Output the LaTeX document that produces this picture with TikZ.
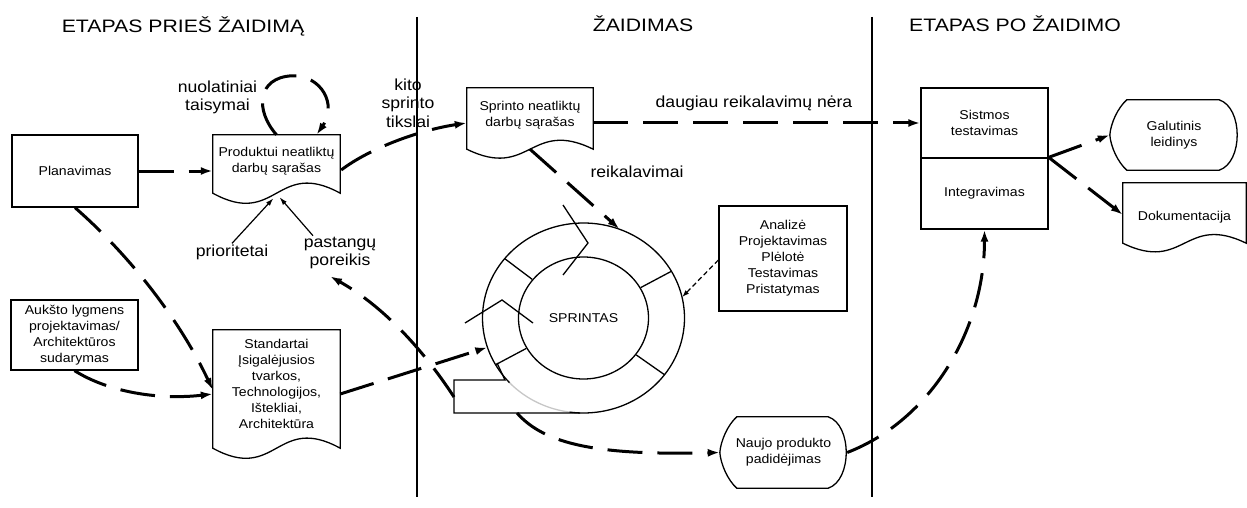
\documentclass[tikz,border=0pt]{standalone}
\usepackage{fontspec}
\setmainfont{Liberation Sans}[FakeStretch=1.1]
\newfontfamily\headfont{Liberation Sans}[FakeStretch=1.18]
\usetikzlibrary{arrows.meta,calc,shapes.geometric}

\tikzset{
  boxline/.style={line width=1.3pt, line join=miter},
  txt/.style={font=\fontsize{12.8}{16}\selectfont, align=center},
  rbox/.style={draw, boxline, rectangle, inner sep=0pt, txt},
  dnode/.style={rectangle, inner sep=0pt, txt},
  lbl/.style={font=\fontsize{16}{18.5}\selectfont, align=center, inner sep=1pt},
  head/.style={font=\headfont\fontsize{18}{21}\selectfont, inner sep=0pt},
  conn/.style={line width=3pt, dash pattern=on 35pt off 15pt, -{Latex[length=12pt,width=8pt]}},
  thinarr/.style={line width=1.2pt, -{Latex[length=8pt,width=5pt]}},
  anarr/.style={line width=1.2pt, dash pattern=on 5pt off 3pt, -{Latex[length=7pt,width=5pt]}},
  divider/.style={line width=1.5pt},
}

% document shape: name, extra drop of sides, control offsets
\newcommand\docoutline[4]{%
  \draw[boxline] ($(#1.south west)+(0,#2)$) -- (#1.north west) -- (#1.north east)
    -- ($(#1.south east)+(0,#2)$)
    .. controls ($(#1.south)+(0,#3)$) and ($(#1.south)+(0,#4)$) .. cycle;}
% display shape
\newcommand\dispshape[1]{%
  \draw[boxline] ($(#1.north west)+(17,0)$) -- ($(#1.north east)+(-19,0)$)
    .. controls ($(#1.north east)+(5,8)$) and ($(#1.south east)+(5,-8)$) .. ($(#1.south east)+(-19,0)$)
    -- ($(#1.south west)+(17,0)$)
    .. controls ($(#1.south west)+(8,-8)$) and ($(#1.west)+(1,12)$) .. (#1.west)
    .. controls ($(#1.west)+(1,-12)$) and ($(#1.north west)+(8,8)$) .. cycle;}

\begin{document}
\begin{tikzpicture}[x=1pt,y=-1pt]
\useasboundingbox (0,0) rectangle (1247,508);

% headings
\node[head, anchor=base] (h1) at (183,32.5) {ETAPAS PRIEŠ ŽAIDIMĄ};
\node[head, anchor=base] (h2) at (643,31.5) {ŽAIDIMAS};
\node[head, anchor=base] (h3) at (1015,31.5) {ETAPAS PO ŽAIDIMO};

% dividers
\draw[divider] (417,17) -- (417,497);
\draw[divider] (872,17) -- (872,497);

% boxes
\node[rbox, minimum width=126, minimum height=72] (plan) at (75,171) {Planavimas};
\node[dnode, minimum width=127, minimum height=53] (prod) at (276.5,161.5) {Produktui neatliktų\\darbų sąrašas};
\docoutline{prod}{5}{-30}{40}
\node[dnode, minimum width=127, minimum height=108] (std) at (276.5,384) {Standartai\\Įsigalėjusios\\tvarkos,\\Technologijos,\\Ištekliai,\\Architektūra};
\docoutline{std}{10}{-25}{45}
\node[rbox, minimum width=127, minimum height=70] (aukst) at (74.5,335) {Aukšto lygmens\\projektavimas/\\Architektūros\\sudarymas};
\node[dnode, minimum width=126, minimum height=54] (sprb) at (530,115) {Sprinto neatliktų\\darbų sąrašas};
\docoutline{sprb}{7}{-24}{38}
\node[rbox, minimum width=127, minimum height=70] (sis) at (984.5,123) {Sistmos\\testavimas};
\node[rbox, minimum width=127, minimum height=71] (int) at (984.5,193.5) {Integravimas};
\node[dnode, minimum width=128, minimum height=70] (gal) at (1174,135) {Galutinis\\leidinys};
\dispshape{gal}
\node[dnode, minimum width=123, minimum height=68] (doc) at (1184.5,217) {Dokumentacija};
\docoutline{doc}{-8}{-38}{22}
\node[rbox, minimum width=128, minimum height=105] (anal) at (783,258.5) {Analizė\\Projektavimas\\Plėlotė\\Testavimas\\Pristatymas};
\node[dnode, minimum width=127, minimum height=71] (naujo) at (783.5,452.5) {Naujo produkto\\padidėjimas};
\dispshape{naujo}

% sprint rings
\node[ellipse, draw, boxline, minimum width=130, minimum height=122, inner sep=0pt, txt] (sprint) at (583.5,318) {SPRINTAS};
\node[ellipse, minimum width=202, minimum height=190, inner sep=0pt] (ring) at (583.5,318) {};
\draw[boxline] plot[domain=262:583, samples=160] ({583.5+101*cos(\x)},{318-95*sin(\x)});
\draw[boxline, black!22] plot[domain=223:262, samples=40] ({583.5+101*cos(\x)},{318-95*sin(\x)});
\foreach \a in {143,28,-35,208} \draw[boxline] (sprint.\a) -- (ring.\a);
\draw[boxline] (563,205) -- (588,243) -- (563,275);
\draw[boxline] (465,323) -- (502,300) -- (533,323);
\draw[boxline] (497,363) -- (505,380) -- (454,380) -- (454,413) -- (580,413);
\coordinate (fbL) at (454,397);
\coordinate (fbB) at (517,413);

% labels
\node[lbl] (nuol) at (217.5,97.5) {nuolatiniai\\taisymai};
\node[lbl] (kito) at (408,103) {kito\\sprinto\\tikslai};
\node[lbl] (daug) at (754,103) {daugiau reikalavimų nėra};
\node[lbl] (reik) at (637,172) {reikalavimai};
\node[lbl] (prio) at (232,252) {prioritetai};
\node[lbl] (past) at (340,253) {pastangų\\poreikis};

% connectors
\draw[conn] (plan.east) -- (plan.east -| prod.west);
\draw[conn] (prod.north) .. controls ($(prod.north)+(-22,-25)$) and ($(prod.north)+(-19,-57)$) .. ($(prod.north)+(15,-59)$)
  .. controls ($(prod.north)+(45,-60)$) and ($(prod.north)+(61,-30)$) .. ($(prod.north)+(40,0)$);
\draw[conn] ($(prod.east)+(1,8.5)$) .. controls ($(prod.east)+(30,-13.5)$) and ($(sprb.west)+(-47,15)$) .. ($(sprb.west)+(0,8)$);
\draw[conn] ($(sprb.east)+(0,8)$) -- (sis.west);
\draw[conn] ($(sprb.south)+(0,7)$) -- (ring.68);
\draw[anarr] ($(anal.west)+(0,1.5)$) -- (ring.12);
\draw[conn] (plan.south) .. controls ($(plan.south)+(55,48)$) and ($(std.west)+(-33,-64)$) .. ($(std.west)+(0,6)$);
\draw[conn] (aukst.south) .. controls ($(aukst.south)+(35,22)$) and ($(std.west)+(-53,16)$) .. ($(std.west)+(0,10)$);
\draw[conn] ($(std.east)+(0,10)$) -- (ring.197);
\draw[conn] (fbL) .. controls ($(fbL)+(-34,-52)$) and ($(past.south)+(40,34)$) .. ($(past.south)+(-10,6)$);
\draw[conn] (fbB) .. controls ($(fbB)+(28,32)$) and ($(naujo.west)+(-120,3)$) .. (naujo.west);
\draw[conn] (naujo.east) .. controls ($(naujo.east)+(83,-32)$) and ($(int.south)+(0,101)$) .. (int.south);
\draw[conn] (int.north east) -- (gal.west);
\draw[conn] (int.north east) -- ($(doc.north west)+(0,32)$);
\draw[thinarr] (prio.north) -- ($(prod.south)+(-3,10)$);
\draw[thinarr] ($(past.north)+(-27,0)$) -- ($(prod.south)+(3,9)$);
\end{tikzpicture}
\end{document}
